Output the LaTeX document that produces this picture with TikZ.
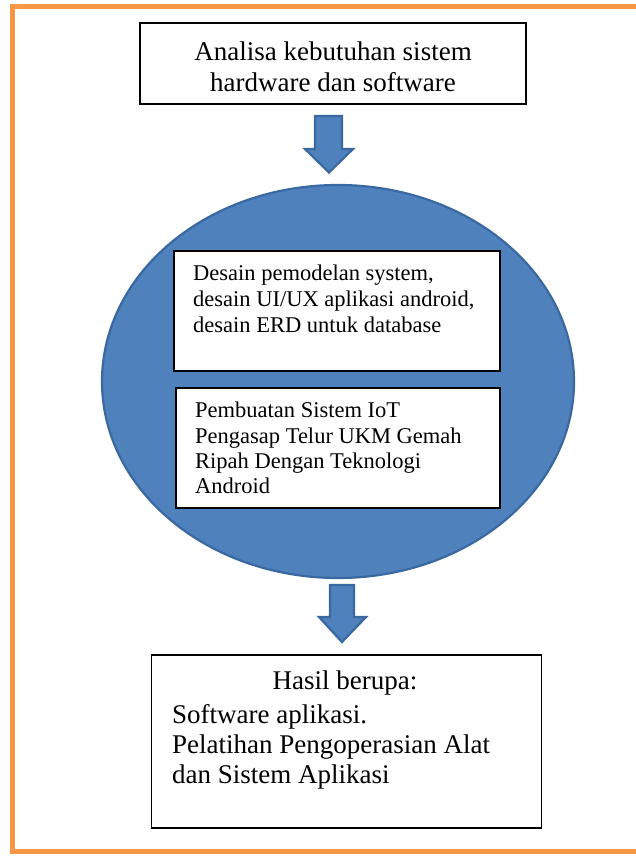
\documentclass[tikz,border=0pt]{standalone}
\usepackage{fontspec}
\setmainfont{Liberation Serif}
\usetikzlibrary{shapes.geometric}
\definecolor{frameorange}{HTML}{F79646}
\definecolor{blockblue}{HTML}{4F81BD}
\definecolor{blockedge}{HTML}{3A68A0}
\tikzset{
  box/.style={draw=black, line width=1.6pt, fill=white, inner sep=0pt},
  txtl/.style={inner sep=0pt, anchor=base west},
  txtc/.style={inner sep=0pt, anchor=base},
  bigfont/.style={font=\fontsize{27}{31}\selectfont},
  smallfont/.style={font=\fontsize{22.5}{26}\selectfont},
  blockarrow/.style={fill=blockblue, draw=blockedge, line width=2.2pt, line join=miter},
}
\begin{document}
\begin{tikzpicture}[x=1pt, y=-1pt]
\useasboundingbox (0,0) rectangle (635,856);
\fill[white] (0,0) rectangle (635,856);
% outer orange frame
\draw[frameorange, line width=5pt] (12,6.5) rectangle (650,851);

% top box
\node[box, minimum width=386pt, minimum height=81pt] (top) at (333,63.5) {};
\node[txtc, bigfont] (t1) at (333,61) {Analisa kebutuhan sistem};
\node[txtc, bigfont] (t2) at (333,92) {hardware dan software};

% top block arrow
\coordinate (a1) at (329,116);
\draw[blockarrow] (315,116) -- (342,116) -- (342,149) -- (353,149) -- (329,172.5) -- (305,149) -- (315,149) -- cycle;

% ellipse
\node[ellipse, fill=blockblue, draw=blockedge, line width=2.2pt, minimum width=472pt, minimum height=393pt, inner sep=0pt] (ell) at (338,381.5) {};

% inner box 1
\node[box, minimum width=326pt, minimum height=120pt] (b1) at (337,311) {};
\node[txtl, smallfont] (b1l1) at (193,280) {Desain pemodelan system,};
\node[txtl, smallfont] (b1l2) at (193,306) {desain UI/UX aplikasi android,};
\node[txtl, smallfont] (b1l3) at (193,332) {desain ERD untuk database};

% inner box 2
\node[box, minimum width=324pt, minimum height=120pt] (b2) at (338,448) {};
\node[txtl, smallfont] (b2l1) at (195,417) {Pembuatan Sistem IoT};
\node[txtl, smallfont] (b2l2) at (195,443) {Pengasap Telur UKM Gemah};
\node[txtl, smallfont] (b2l3) at (195,468) {Ripah Dengan Teknologi};
\node[txtl, smallfont] (b2l4) at (195,493) {Android};

% bottom block arrow
\draw[blockarrow] (330,585) -- (354,585) -- (354,617) -- (366,617) -- (342,642) -- (319,617) -- (330,617) -- cycle;

% result box
\node[box, minimum width=390pt, minimum height=173pt] (res) at (346.5,741.5) {};
\node[txtc, bigfont] (r1) at (345,689) {Hasil berupa:};
\node[txtl, bigfont] (r2) at (172,723) {Software aplikasi.};
\node[txtl, bigfont] (r3) at (172,753) {Pelatihan Pengoperasian Alat};
\node[txtl, bigfont] (r4) at (172,783) {dan Sistem Aplikasi};
\end{tikzpicture}
\end{document}
